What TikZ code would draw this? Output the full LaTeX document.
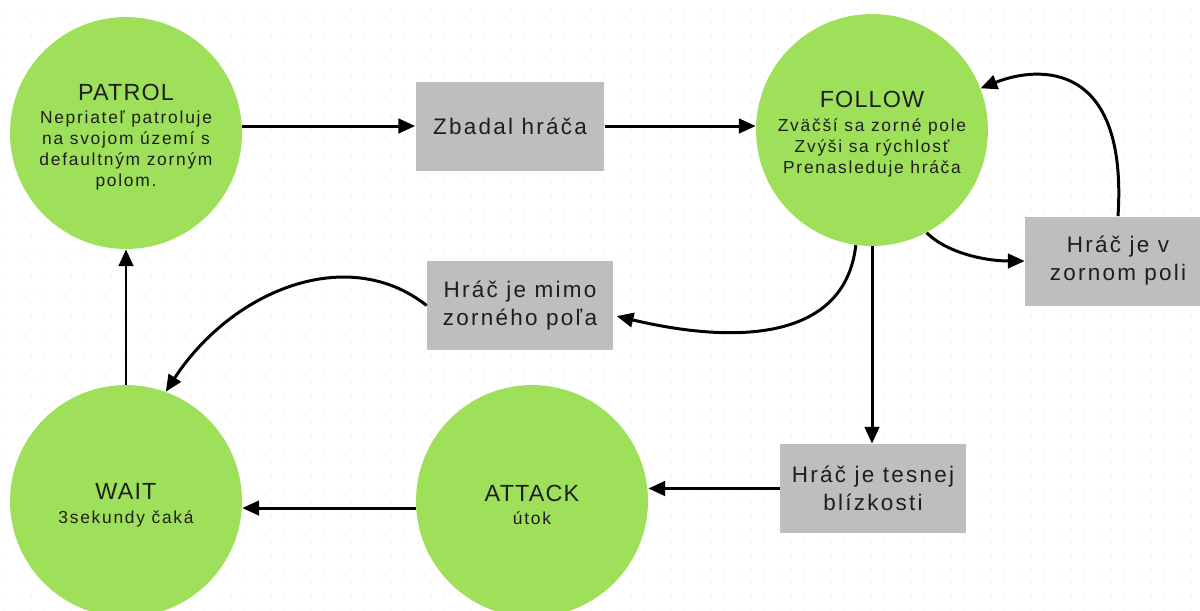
\documentclass[tikz,border=0pt]{standalone}
\usepackage{fontspec}
\setmainfont{Liberation Sans}
\newfontfamily\bodyfont[LetterSpace=10]{Liberation Sans}
\newfontfamily\headfont[LetterSpace=5]{Liberation Sans}
\usepackage{tikz}
\usetikzlibrary{arrows.meta}
\definecolor{stategreen}{HTML}{9FE05B}
\definecolor{condgrey}{HTML}{BEBEBE}
\definecolor{inktext}{HTML}{1E1E1E}
\newcommand{\sttitle}[1]{{\headfont\fontsize{13.3}{16}\selectfont\rule{0pt}{14pt}#1}}

\tikzset{
  stateball/.style={circle, fill=stategreen, minimum size=4.64cm, inner sep=0pt, align=center, text=inktext, font=\bodyfont\fontsize{9.9}{11.9}\selectfont},
  condbox/.style={rectangle, fill=condgrey, minimum width=3.72cm, minimum height=1.78cm, inner sep=0pt, align=center, text=inktext, font=\bodyfont\fontsize{12.8}{15.9}\selectfont},
  trans/.style={-{Triangle[length=9.5pt,width=8.2pt]}, line width=1.7pt, black},
  griddot/.style={fill=black!7}
}

\begin{document}
\begin{tikzpicture}[x=0.02cm,y=-0.02cm]
                    \path[use as bounding box, clip] (0,0) rectangle (1200,610);
                    \fill[white] (0,0) rectangle (1200,610);

                    % dot grid
                    \foreach \gx in {0,...,89}
                      \foreach \gy in {0,...,45}
                        \fill[griddot] (5+\gx*13.33, 9.4+\gy*13.33) circle (1);

                    \node[stateball] (patrol) at (126,133) {\sttitle{PATROL}\\[1pt] Nepriateľ patroluje\\ na svojom území s\\ defaultným zorným\\ polom.};
                    \node[stateball] (follow) at (872,130) {\sttitle{FOLLOW}\\[2pt] Zväčší sa zorné pole\\ Zvýši sa rýchlosť\\ Prenasleduje hráča};
                    \node[stateball] (wait) at (126,501) {\sttitle{WAIT}\\[2pt] 3sekundy čaká};
                    \node[stateball] (attack) at (532,501) {\sttitle{ATTACK}\\[1pt] útok};

                    \node[condbox, minimum width=3.78cm] (spotted) at (510,126) {Zbadal hráča};
                    \node[condbox] (inview) at (1118,261) {Hráč je v\\ zornom poli};
                    \node[condbox] (outview) at (520,305.5) {Hráč je mimo\\ zorného poľa};
                    \node[condbox] (close) at (873,488.5) {Hráč je tesnej\\ blízkosti};

                    \draw[trans] (spotted.west -| patrol.east) -- (spotted.west);

                    \draw[trans] (spotted.east) -- (spotted.east -| follow.west);

                    \draw[trans] (follow.-62) .. controls +(20,20) and +(-40,0) .. (inview.west);

                    \draw[trans] (inview.north) .. controls +(10,-156) and +(58,-23) .. (follow.21);

                    \draw[trans, shorten >=2pt] (follow.-98) .. controls +(-11,96) and +(122,29) .. (outview.-6);

                    \draw[trans] (outview.west) .. controls +(-80,-63) and +(65,-100) .. (wait.70);

                    \draw[trans] (follow.south) -- (follow.south |- close.north);

                    \draw[trans] (close.west) -- (close.west -| attack.east);

                    \draw[trans] ([yshift=-4pt]attack.west) -- ([yshift=-4pt]wait.east);

                    \draw[trans] (wait.north) -- (patrol.south);
\end{tikzpicture}
\end{document}
